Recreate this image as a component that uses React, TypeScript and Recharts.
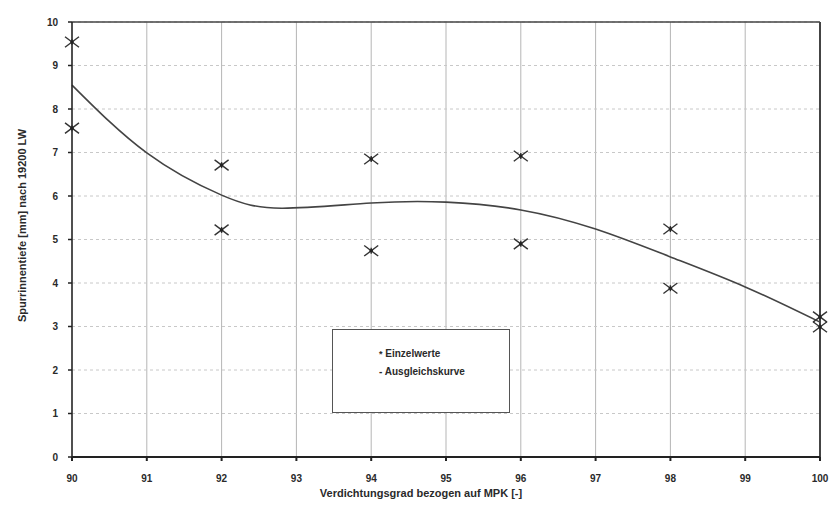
import React from "react";
import {
  ComposedChart,
  Line,
  Scatter,
  XAxis,
  YAxis,
  CartesianGrid,
  ReferenceLine,
  Legend,
} from "recharts";

const pointX = [90, 90, 92, 92, 94, 94, 96, 96, 98, 98, 100, 100];
const pointY = [9.54, 7.56, 6.71, 5.22, 6.85, 4.74, 6.92, 4.9, 5.24, 3.88, 3.22, 2.99];

const curveX = [90, 91, 92, 92.8, 94, 95, 96, 97, 98, 99, 100];
const curveY = [8.55, 6.99, 6.02, 5.72, 5.84, 5.86, 5.68, 5.24, 4.6, 3.91, 3.1];

const xTicks = [90, 91, 92, 93, 94, 95, 96, 97, 98, 99, 100];
const yTicks = [0, 1, 2, 3, 4, 5, 6, 7, 8, 9, 10];

const xTitle = "Verdichtungsgrad bezogen auf MPK [-]";
const yTitle = "Spurrinnentiefe [mm] nach 19200 LW";
const legendPoints = "Einzelwerte";
const legendCurve = "Ausgleichskurve";

const points = pointX.map((x, i) => ({ x, y: pointY[i] }));
const curve = curveX.map((x, i) => ({ x, y: curveY[i] }));

const FONT = "'Liberation Sans', Arial, sans-serif";
const INK = "#2a2a2a";

const Asterisk = (props: any) => {
  const { cx, cy } = props;
  if (cx == null || cy == null) return null;
  const r = 7;
  return (
    <g stroke="#333" strokeWidth={1.4} fill="none">
      <line x1={cx - r} y1={cy - r * 0.75} x2={cx + r} y2={cy + r * 0.75} />
      <line x1={cx - r} y1={cy + r * 0.75} x2={cx + r} y2={cy - r * 0.75} />
      <line x1={cx} y1={cy - 3} x2={cx} y2={cy + 3} />
      <circle cx={cx} cy={cy} r={1.8} fill="#222" stroke="none" />
    </g>
  );
};

const LegendBox = () => (
  <div
    style={{
      width: 178,
      height: 84,
      border: "1px solid #555",
      background: "#fff",
      fontFamily: FONT,
      fontSize: 10,
      fontWeight: "bold",
      color: INK,
      boxSizing: "border-box",
      paddingLeft: 46,
      paddingTop: 15,
      lineHeight: "18px",
      textAlign: "left",
    }}
  >
    <div>
      <span style={{ fontSize: 9 }}>*</span> {legendPoints}
    </div>
    <div>- {legendCurve}</div>
  </div>
);

export default function App() {
  return (
    <div style={{ position: "absolute", left: 0, top: 0, width: 838, height: 509, background: "#fff" }}>
      <ComposedChart
        width={838}
        height={509}
        margin={{ top: 22, right: 18, left: 0, bottom: 0 }}
      >
        <CartesianGrid horizontal={false} stroke="#b5b5b5" strokeWidth={1} />
        <CartesianGrid vertical={false} stroke="#c8c8c8" strokeDasharray="3 3" />
        <XAxis
          type="number"
          dataKey="x"
          domain={[90, 100]}
          ticks={xTicks}
          height={52}
          stroke="#222"
          strokeWidth={2}
          tickSize={4}
          tickMargin={14}
          tick={{ fill: INK, fontSize: 10, fontWeight: "bold", fontFamily: FONT }}
          label={{
            value: xTitle,
            position: "insideBottom",
            offset: 12,
            dx: -25,
            style: { fill: INK, fontSize: 11, fontWeight: "bold", fontFamily: FONT },
          }}
        />
        <YAxis
          type="number"
          dataKey="y"
          domain={[0, 10]}
          ticks={yTicks}
          width={72}
          stroke="#222"
          strokeWidth={1.5}
          tickSize={4}
          tickMargin={10}
          tick={{ fill: INK, fontSize: 10, fontWeight: "bold", fontFamily: FONT }}
          label={{
            value: yTitle,
            angle: -90,
            position: "insideLeft",
            offset: 22,
            dy: -14,
            style: { fill: INK, fontSize: 11, fontWeight: "bold", fontFamily: FONT, textAnchor: "middle" },
          }}
        />
        <ReferenceLine y={10} stroke="#444" strokeWidth={1.5} />
        <ReferenceLine x={100} stroke="#444" strokeWidth={2} />
        <Line
          data={curve}
          dataKey="y"
          type="natural"
          stroke="#444"
          strokeWidth={1.6}
          dot={false}
          isAnimationActive={false}
          legendType="none"
        />
        <Scatter data={points} dataKey="y" shape={<Asterisk />} isAnimationActive={false} />
        <Legend
          layout="horizontal"
          verticalAlign="middle"
          align="center"
          content={<LegendBox />}
          wrapperStyle={{ position: "absolute", left: 332, top: 329, width: 178, height: 84 }}
        />
      </ComposedChart>
    </div>
  );
}
